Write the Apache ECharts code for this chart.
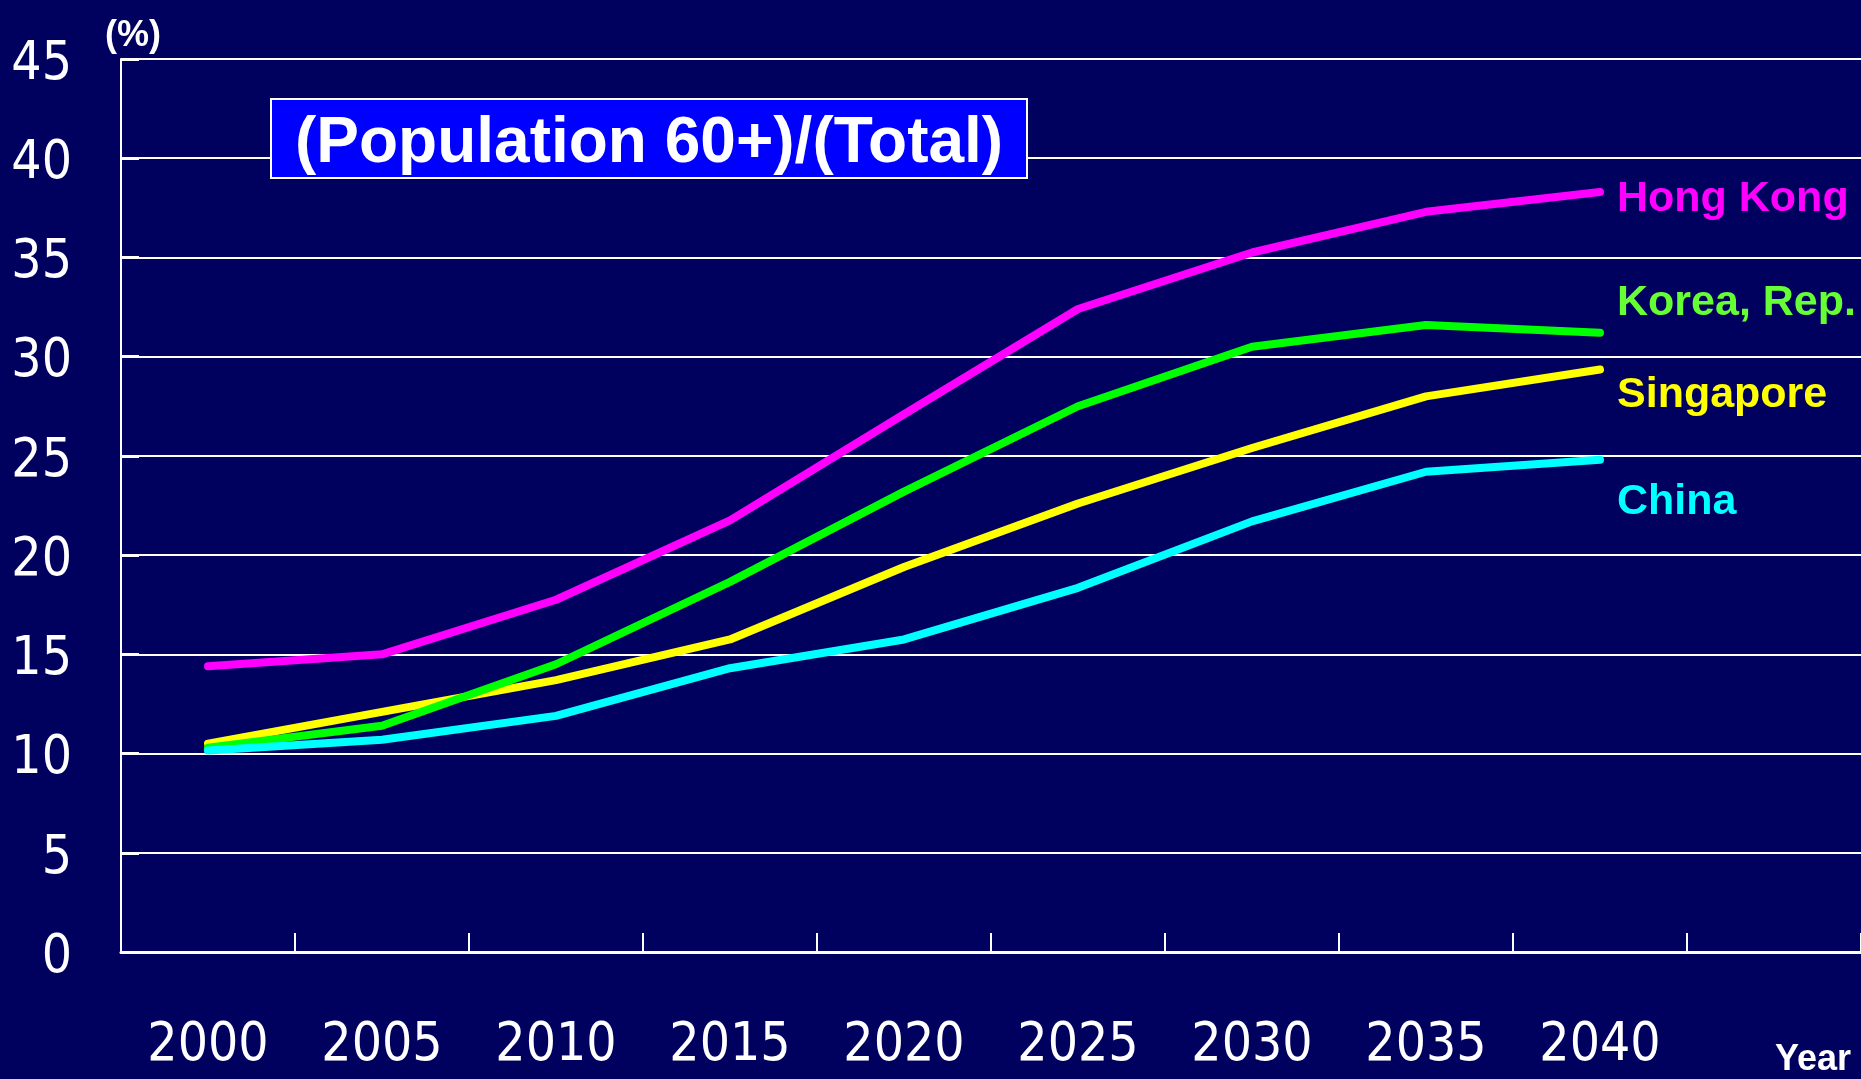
<!DOCTYPE html>
<html>
<head>
<meta charset="utf-8">
<title>Population 60+ share</title>
<script src="https://cdn.jsdelivr.net/npm/echarts@6/dist/echarts.min.js"></script>
<style>
  html, body { margin: 0; padding: 0; background: #00005f; }
  #chart { width: 1861px; height: 1079px; }
</style>
</head>
<body>
<div id="chart"></div>
<script>
// years on the x axis (last slot is empty, as in the original)
const years = ['2000', '2005', '2010', '2015', '2020', '2025', '2030', '2035', '2040', ''];

// share of population aged 60+ (%)
const hongKong  = [14.4, 15.0, 17.75, 21.75, 27.1, 32.4, 35.25, 37.3, 38.3];
const singapore = [10.5, 12.1, 13.7, 15.75, 19.4, 22.6, 25.4, 28.0, 29.35];
const korea     = [10.3, 11.4, 14.5, 18.65, 23.2, 27.5, 30.5, 31.6, 31.2];
const china     = [10.15, 10.7, 11.9, 14.3, 15.75, 18.35, 21.7, 24.2, 24.8];

const narrow = "'Liberation Sans Narrow', 'DejaVu Sans Condensed', 'Roboto Condensed', sans-serif";
const arial = "'Liberation Sans', Arial, sans-serif";

const chart = echarts.init(document.getElementById('chart'));

// line series with a coloured name at the end of the line
const makeLine = (name, data, color, labelColor, dy) => ({
  name: name,
  type: 'line',
  data: data,
  symbol: 'none',
  lineStyle: { color: color, width: 8, cap: 'round', join: 'round' },
  itemStyle: { color: color },
  endLabel: {
    show: true,
    formatter: name,
    color: labelColor,
    fontFamily: arial,
    fontWeight: 'bold',
    fontSize: 43,
    distance: 17,
    offset: [0, dy]
  },
  animation: false
});

chart.setOption({
  backgroundColor: '#00005f',
  title: {
    text: '(Population 60+)/(Total)',
    left: 271,
    top: 99,
    padding: [14, 24, 2, 24],
    backgroundColor: '#0000ff',
    borderColor: '#ffffff',
    borderWidth: 2,
    textStyle: {
      color: '#ffffff',
      fontFamily: arial,
      fontWeight: 'bold',
      fontSize: 64,
      lineHeight: 63
    }
  },
  grid: {
    left: 121,
    right: 0,
    top: 59,
    bottom: 127,
    containLabel: false
  },
  xAxis: {
    type: 'category',
    data: years,
    boundaryGap: true,
    name: 'Year',
    nameLocation: 'end',
    nameGap: -10,
    nameTextStyle: {
      color: '#ffffff',
      fontFamily: arial,
      fontWeight: 'bold',
      fontSize: 36,
      align: 'right',
      verticalAlign: 'top',
      padding: [90, 0, 0, 0]
    },
    axisLine: { lineStyle: { color: '#ffffff', width: 3 } },
    axisTick: { show: true, inside: true, length: 19, lineStyle: { color: '#ffffff', width: 2 } },
    axisLabel: {
      color: '#ffffff',
      fontFamily: narrow,
      fontSize: 53,
      lineHeight: 53,
      margin: 68
    },
    splitLine: { show: false }
  },
  yAxis: {
    type: 'value',
    min: 0,
    max: 45,
    interval: 5,
    name: '(%)',
    nameLocation: 'end',
    nameGap: 5,
    nameTextStyle: {
      color: '#ffffff',
      fontFamily: arial,
      fontWeight: 'bold',
      fontSize: 36,
      align: 'center',
      padding: [0, 0, 0, 24]
    },
    axisLine: { show: true, lineStyle: { color: '#ffffff', width: 2 } },
    axisTick: { show: true, inside: true, length: 18, lineStyle: { color: '#ffffff', width: 3 } },
    axisLabel: {
      color: '#ffffff',
      fontFamily: narrow,
      fontSize: 53,
      margin: 49,
      verticalAlign: 'top',
      lineHeight: 12
    },
    splitLine: { lineStyle: { color: '#ffffff', width: 2 } }
  },
  series: [
    makeLine('Hong Kong', hongKong, '#ff00ff', '#ff00ff', 7),
    makeLine('Singapore', singapore, '#ffff00', '#ffff00', 26),
    makeLine('Korea, Rep.', korea, '#00ff00', '#66ff33', -30),
    makeLine('China', china, '#00ffff', '#00ffff', 42)
  ]
});
</script>
</body>
</html>
